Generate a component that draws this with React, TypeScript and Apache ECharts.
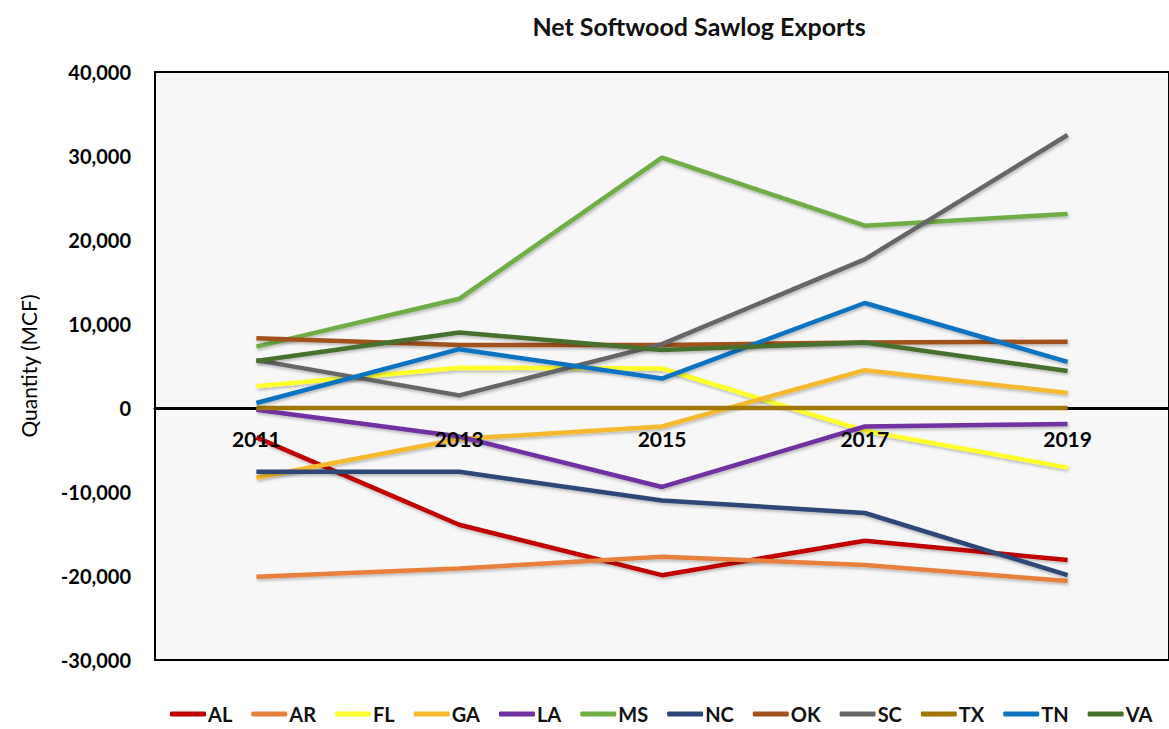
import React, { useEffect, useRef } from "react";
import * as echarts from "echarts";

const years = ["2011", "2013", "2015", "2017", "2019"];
const states = ["AL", "AR", "FL", "GA", "LA", "MS", "NC", "OK", "SC", "TX", "TN", "VA"];
const colors = ["#C00000", "#E8803E", "#FFFF2E", "#F4B92E", "#7030A0", "#70AD47", "#2E4677", "#A0511C", "#666666", "#A07800", "#0D72C0", "#46702E"];

const AL = [-3500, -13900, -19900, -15800, -18100];
const AR = [-20100, -19100, -17700, -18700, -20600];
const FL = [2600, 4800, 4700, -2700, -7100];
const GA = [-8300, -3700, -2200, 4500, 1800];
const LA = [-200, -3400, -9400, -2200, -1900];
const MS = [7300, 13000, 29800, 21700, 23100];
const NC = [-7600, -7600, -11000, -12500, -19900];
const OK = [8300, 7500, 7500, 7800, 7900];
const SC = [5700, 1500, 7600, 17700, 32500];
const TX = [0, 0, 0, 0, 0];
const TN = [600, 7000, 3500, 12500, 5500];
const VA = [5600, 9000, 6900, 7800, 4400];

const seriesValues = [AL, AR, FL, GA, LA, MS, NC, OK, SC, TX, TN, VA];

const FONT = "Lato, 'Open Sans', sans-serif";

export default function App() {
  const ref = useRef<HTMLDivElement>(null);
  useEffect(() => {
    if (!ref.current) return;
    const chart = echarts.init(ref.current, null, { renderer: "svg" });
    chart.setOption({
      animation: false,
      backgroundColor: "#ffffff",
      title: {
        text: "Net Softwood Sawlog Exports",
        left: 694,
        top: 8,
        textAlign: "center",
        textStyle: { fontFamily: FONT, fontSize: 25, fontWeight: "bold", color: "#111" },
      },
      legend: {
        data: states,
        bottom: 0,
        left: 165,
        itemWidth: 36,
        itemHeight: 5,
        itemGap: 19,
        icon: "roundRect",
        textStyle: { fontFamily: FONT, fontSize: 20, fontWeight: "bold", color: "#111", padding: [0, 0, 0, -3] },
      },
      grid: {
        left: 155,
        right: 0,
        top: 72,
        bottom: 69,
        show: true,
        backgroundColor: "#F7F7F7",
        borderColor: "#000",
        borderWidth: 2,
      },
      xAxis: [
        {
          type: "category",
          data: years,
          boundaryGap: true,
          z: 0,
          axisLine: { onZero: true, lineStyle: { color: "#000", width: 3 } },
          axisTick: { show: false },
          axisLabel: { show: false },
          splitLine: { show: false },
        },
        {
          type: "category",
          data: years,
          boundaryGap: true,
          position: "bottom",
          offset: -252,
          z: 10,
          axisLine: { show: false, onZero: false },
          axisTick: { show: false },
          axisLabel: { fontFamily: FONT, fontSize: 21, fontWeight: "bold", color: "#000", margin: 20 },
          splitLine: { show: false },
        },
      ],
      yAxis: {
        type: "value",
        min: -30000,
        max: 40000,
        interval: 10000,
        name: "Quantity (MCF)",
        nameLocation: "middle",
        nameGap: 116,
        nameTextStyle: { fontFamily: FONT, fontSize: 21, color: "#000" },
        axisLine: { show: false },
        axisTick: { show: false },
        splitLine: { show: false },
        axisLabel: {
          fontFamily: FONT,
          fontSize: 20,
          fontWeight: "bold",
          color: "#000",
          margin: 24,
          formatter: (v: number) => v.toLocaleString("en-US"),
        },
      },
      series: states.map((s, i) => {
        const flat = seriesValues[i].every((v) => v === seriesValues[i][0]);
        return {
          name: s,
          type: "line",
          data: seriesValues[i],
          symbol: "none",
          z: 3,
          color: colors[i],
          lineStyle: flat
            ? { width: 4.5, color: colors[i] }
            : {
                width: 4.5,
                color: colors[i],
                shadowColor: "rgba(0,0,0,0.25)",
                shadowBlur: 3,
                shadowOffsetX: 1,
                shadowOffsetY: 2,
              },
        };
      }),
    });
    return () => chart.dispose();
  }, []);
  return <div ref={ref} style={{ position: "fixed", left: 0, top: 0, width: 1169, height: 729 }} />;
}
